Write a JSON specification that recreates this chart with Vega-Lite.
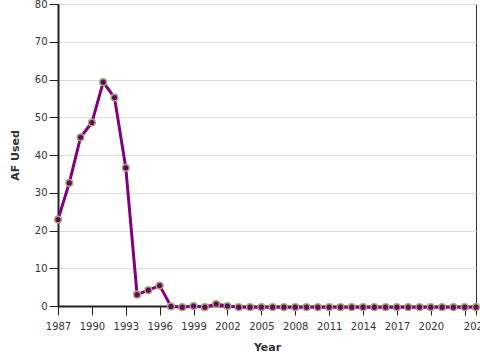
{
  "$schema": "https://vega.github.io/schema/vega-lite/v6.json",
  "width": 418,
  "height": 302,
  "autosize": "none",
  "padding": {"left": 58, "top": 4, "right": 4, "bottom": 54},
  "config": {
    "font": "DejaVu Sans",
    "view": {"stroke": "#333333", "strokeWidth": 1},
    "axis": {"labelFont": "DejaVu Sans", "titleFont": "DejaVu Sans", "labelFontSize": 10, "titleFontSize": 11, "titleFontWeight": "bold", "labelColor": "#333333", "titleColor": "#333333", "domainColor": "#222222", "domainWidth": 2, "tickColor": "#222222", "gridColor": "#dddddd", "tickSize": 9}
  },
  "data": {"values": [
    {"Year": 1987, "AF": 22.9},
    {"Year": 1988, "AF": 32.6},
    {"Year": 1989, "AF": 44.7},
    {"Year": 1990, "AF": 48.6},
    {"Year": 1991, "AF": 59.3},
    {"Year": 1992, "AF": 55.2},
    {"Year": 1993, "AF": 36.6},
    {"Year": 1994, "AF": 3.0},
    {"Year": 1995, "AF": 4.2},
    {"Year": 1996, "AF": 5.4},
    {"Year": 1997, "AF": -0.1},
    {"Year": 1998, "AF": -0.3},
    {"Year": 1999, "AF": 0.0},
    {"Year": 2000, "AF": -0.3},
    {"Year": 2001, "AF": 0.5},
    {"Year": 2002, "AF": 0.0},
    {"Year": 2003, "AF": -0.3},
    {"Year": 2004, "AF": -0.3},
    {"Year": 2005, "AF": -0.3},
    {"Year": 2006, "AF": -0.3},
    {"Year": 2007, "AF": -0.3},
    {"Year": 2008, "AF": -0.3},
    {"Year": 2009, "AF": -0.3},
    {"Year": 2010, "AF": -0.3},
    {"Year": 2011, "AF": -0.3},
    {"Year": 2012, "AF": -0.3},
    {"Year": 2013, "AF": -0.3},
    {"Year": 2014, "AF": -0.3},
    {"Year": 2015, "AF": -0.3},
    {"Year": 2016, "AF": -0.3},
    {"Year": 2017, "AF": -0.3},
    {"Year": 2018, "AF": -0.3},
    {"Year": 2019, "AF": -0.3},
    {"Year": 2020, "AF": -0.3},
    {"Year": 2021, "AF": -0.3},
    {"Year": 2022, "AF": -0.3},
    {"Year": 2023, "AF": -0.3},
    {"Year": 2024, "AF": -0.3}
  ]},
  "encoding": {
    "x": {"field": "Year", "type": "quantitative", "scale": {"domain": [1987, 2024], "nice": false, "zero": false},
      "axis": {"values": [1987, 1990, 1993, 1996, 1999, 2002, 2005, 2008, 2011, 2014, 2017, 2020, 2023, 2024], "format": "d", "grid": false, "labelExpr": "datum.value == 2023 ? '' : datum.label", "labelOverlap": false, "labelFlush": false, "labelPadding": 6, "titlePadding": 10}},
    "y": {"field": "AF", "type": "quantitative", "scale": {"domain": [0, 80], "nice": false},
      "axis": {"values": [0, 10, 20, 30, 40, 50, 60, 70, 80], "title": "AF Used", "grid": true, "labelPadding": 2, "titlePadding": 14}}
  },
  "layer": [
    {"mark": {"type": "line", "color": "#800080", "strokeWidth": 3, "clip": false}},
    {"mark": {"type": "point", "filled": true, "fill": "#5a0f5a", "stroke": "#b5a27a", "strokeWidth": 1.5, "size": 45, "opacity": 1, "clip": false}}
  ]
}
